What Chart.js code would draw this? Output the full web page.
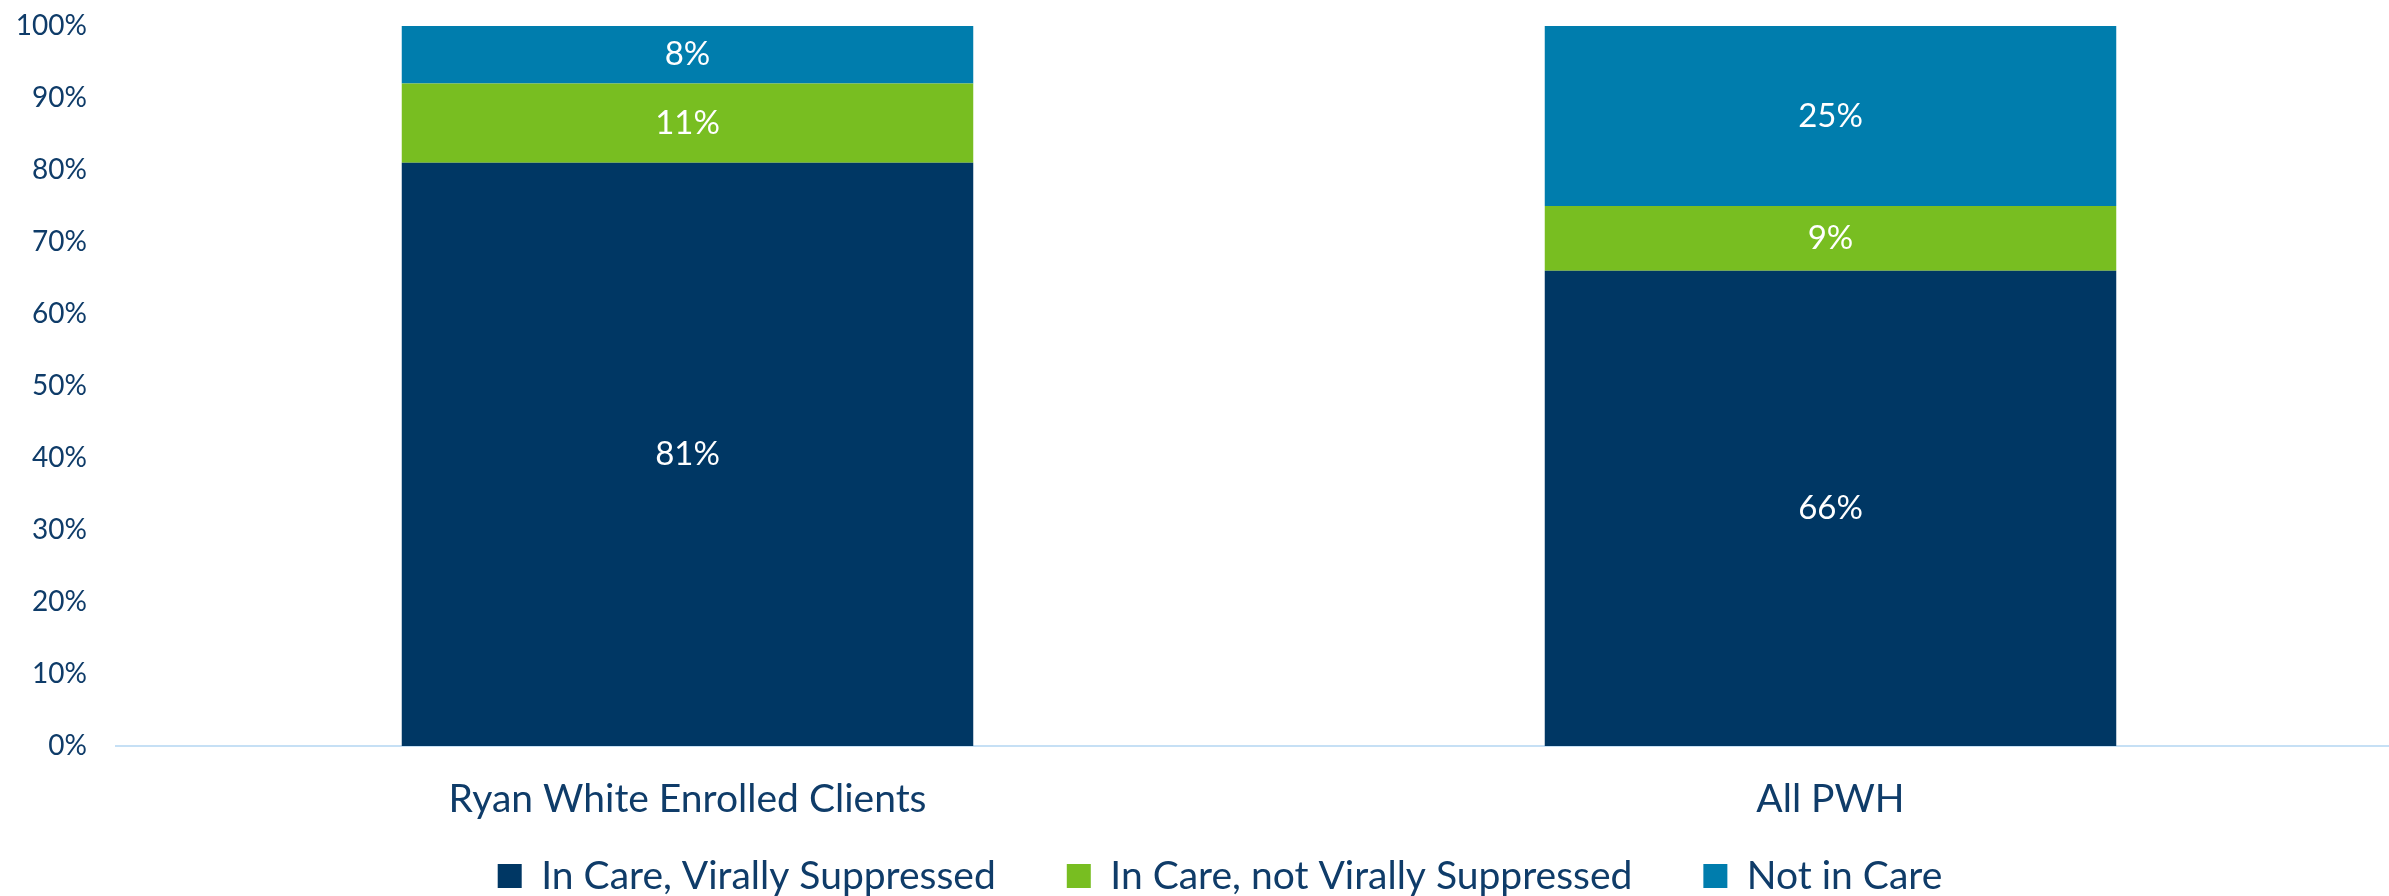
<!DOCTYPE html>
<html>
<head>
<meta charset="utf-8">
<script src="https://cdn.jsdelivr.net/npm/chart.js@4"></script>
<style>
  html, body { margin: 0; padding: 0; background: #fff; overflow: hidden; }
  #wrap { width: 2389px; height: 896px; overflow: hidden; }
</style>
</head>
<body>
<div id="wrap"><canvas id="chart" width="2402" height="896"></canvas></div>
<script>
const categories = ["Ryan White Enrolled Clients", "All PWH"];
const suppressed = [81, 66];
const notSuppressed = [11, 9];
const notInCare = [8, 25];
const yTicks = [0, 10, 20, 30, 40, 50, 60, 70, 80, 90, 100];

const textColor = "#0f3c69";
const fontFamily = "Lato, 'Open Sans', sans-serif";
const legendPad = 71;
const legendFont = 39;

// draw the white % labels in the middle of each stacked segment
const segmentLabels = {
    id: "segmentLabels",
    afterDatasetsDraw(chart) {
        const ctx = chart.ctx;
        ctx.save();
        ctx.fillStyle = "#ffffff";
        ctx.font = `33px ${fontFamily}`;
        ctx.textAlign = "center";
        ctx.textBaseline = "middle";
        chart.data.datasets.forEach((ds, i) => {
            const meta = chart.getDatasetMeta(i);
            meta.data.forEach((bar, j) => {
                const { x, y, base } = bar.getProps(["x", "y", "base"], true);
                ctx.fillText(ds.data[j] + "%", x, (y + base) / 2);
            });
        });
        ctx.restore();
    },
};

// legend sits a bit right of centre and close to the bottom edge
const legendNudge = {
    id: "legendNudge",
    afterLayout(chart) {
        const lg = chart.legend;
        lg.left += 19;
        lg.right += 19;
        lg.top = chart.height - 20 - legendFont / 2 - legendPad;
    },
};

new Chart(document.getElementById("chart"), {
    type: "bar",
    data: {
        labels: categories,
        datasets: [
            { label: "In Care, Virally Suppressed", data: suppressed, backgroundColor: "#003764" },
            { label: "In Care, not Virally Suppressed", data: notSuppressed, backgroundColor: "#78be21" },
            { label: "Not in Care", data: notInCare, backgroundColor: "#007dad" },
        ],
    },
    options: {
        responsive: false,
        animation: false,
        layout: { padding: { top: 26, left: 0, right: 0, bottom: 0 } },
        datasets: { bar: { categoryPercentage: 1, barPercentage: 0.5 } },
        scales: {
            x: {
                stacked: true,
                grid: { display: false, drawTicks: false },
                border: { display: true, color: "#c6e0f5", width: 2 },
                ticks: { color: textColor, font: { family: fontFamily, size: 39 }, padding: 30 },
                afterFit: (scale) => { scale.height = 80; },
            },
            y: {
                stacked: true,
                min: 0,
                max: 100,
                grid: { display: false, drawTicks: false },
                border: { display: false },
                afterBuildTicks: (scale) => { scale.ticks = yTicks.map((v) => ({ value: v })); },
                ticks: {
                    color: textColor,
                    font: { family: fontFamily, size: 28 },
                    padding: 29,
                    callback: (v) => v + "%",
                },
                afterFit: (scale) => {
                    scale.width = 116;
                    scale.paddingTop = 0;
                    scale.paddingBottom = 0;
                },
            },
        },
        plugins: {
            legend: {
                position: "bottom",
                maxHeight: 70,
                labels: {
                    color: textColor,
                    font: { family: fontFamily, size: legendFont },
                    boxWidth: 24,
                    boxHeight: 24,
                    padding: legendPad,
                },
            },
            tooltip: { enabled: false },
        },
    },
    plugins: [segmentLabels, legendNudge],
});
</script>
</body>
</html>
